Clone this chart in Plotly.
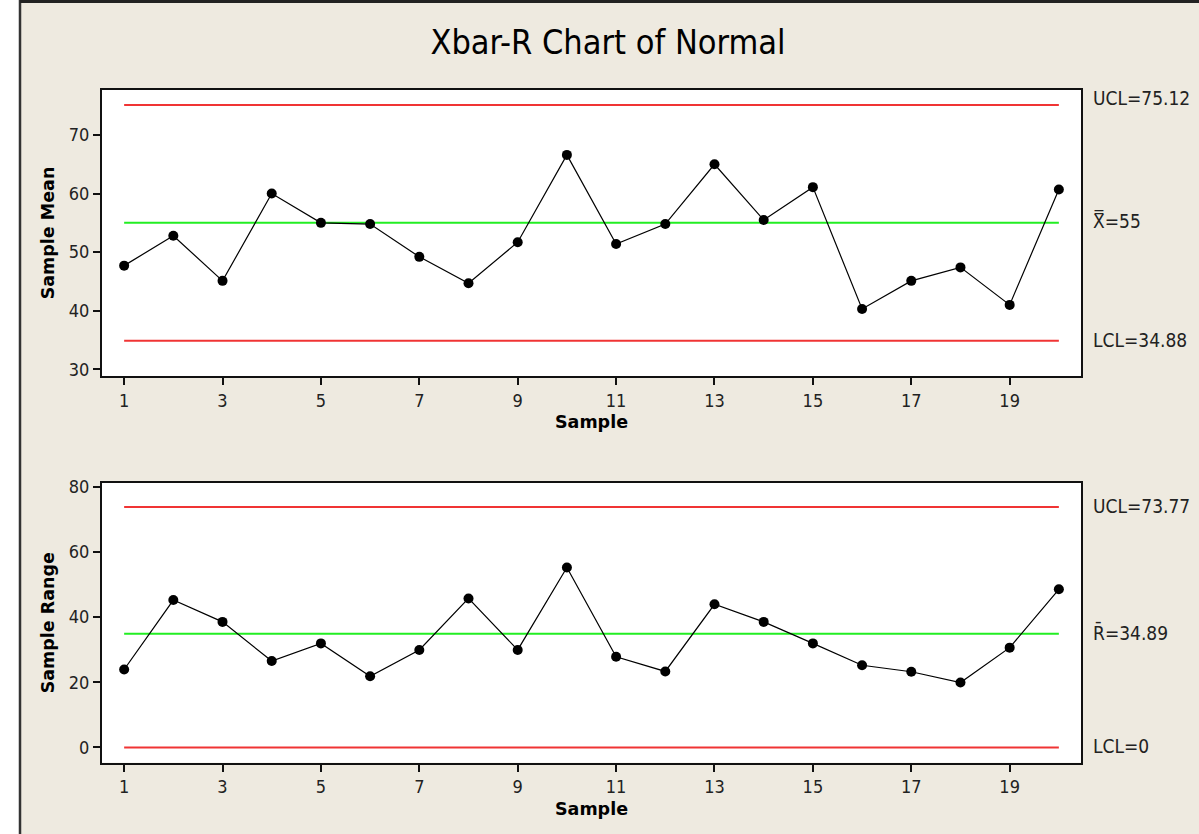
import plotly.graph_objects as go

W, H = 1199, 834

samples = list(range(1, 21))
sample_mean = [47.7, 52.8, 45.1, 60.0, 55.0, 54.8, 49.2, 44.7, 51.7, 66.6,
               51.4, 54.8, 65.0, 55.5, 61.1, 40.3, 45.1, 47.4, 41.0, 60.7]
sample_range = [23.9, 45.2, 38.5, 26.5, 31.9, 21.8, 29.9, 45.7, 29.9, 55.2,
                27.8, 23.3, 43.9, 38.5, 31.9, 25.2, 23.2, 19.9, 30.6, 48.5]

xbar_ucl, xbar_cl, xbar_lcl = 75.12, 55.0, 34.88
r_ucl, r_cl, r_lcl = 73.77, 34.89, 0.0

xbar_labels = ["UCL=75.12", "X\u033f=55", "LCL=34.88"]
r_labels = ["UCL=73.77", "R\u0304=34.89", "LCL=0"]

x_ticks = [1, 3, 5, 7, 9, 11, 13, 15, 17, 19]
y1_ticks = [30, 40, 50, 60, 70]
y2_ticks = [0, 20, 40, 60, 80]

BG = "#EEEAE0"
RED = "#F03434"
GREEN = "#22EE22"
TICK_FONT = dict(family="DejaVu Sans Condensed, DejaVu Sans, sans-serif", size=18, color="#222")
TITLE_FONT = dict(family="DejaVu Sans, Verdana, sans-serif", size=17.5, color="black", weight="bold")

fig = go.Figure()

def add_chart(xa, ya, values, ucl, cl, lcl):
    x_end = [samples[0], samples[-1]]
    for v, c in [(ucl, RED), (lcl, RED), (cl, GREEN)]:
        fig.add_trace(go.Scatter(x=x_end, y=[v, v], mode="lines",
                                 line=dict(color=c, width=2),
                                 xaxis=xa, yaxis=ya, showlegend=False,
                                 hoverinfo="skip"))
    fig.add_trace(go.Scatter(x=samples, y=values, mode="lines+markers",
                             line=dict(color="black", width=1.2),
                             marker=dict(color="black", size=10),
                             xaxis=xa, yaxis=ya, showlegend=False))

add_chart("x", "y", sample_mean, xbar_ucl, xbar_cl, xbar_lcl)
add_chart("x2", "y2", sample_range, r_ucl, r_cl, r_lcl)

xdom = [102 / W, 1081 / W]
axis_common = dict(showgrid=False, zeroline=False, showline=True, linecolor="#111",
                   linewidth=2, mirror=True, ticks="outside", ticklen=7,
                   tickwidth=1.5, tickcolor="#111", tickfont=TICK_FONT, automargin=False)

fig.update_layout(
    width=W, height=H,
    margin=dict(l=0, r=0, t=0, b=0, pad=0),
    paper_bgcolor=BG, plot_bgcolor="white",
    title=dict(text="Xbar-R Chart of Normal", x=608 / W, xanchor="center",
               y=1 - 42 / H, yanchor="middle", automargin=False,
               font=dict(family="DejaVu Sans Condensed, Liberation Sans Narrow, DejaVu Sans, sans-serif",
                         size=34, color="black")),
    xaxis=dict(domain=xdom, range=[0.55, 20.45], tickvals=x_ticks, anchor="y",
               title=dict(text="Sample", font=TITLE_FONT, standoff=6), **axis_common),
    yaxis=dict(domain=[1 - 376 / H, 1 - 90 / H], range=[28.86, 77.68], tickvals=y1_ticks,
               anchor="x", title=dict(text="Sample Mean", font=TITLE_FONT, standoff=10),
               **axis_common),
    xaxis2=dict(domain=xdom, range=[0.55, 20.45], tickvals=x_ticks, anchor="y2",
                title=dict(text="Sample", font=TITLE_FONT, standoff=6), **axis_common),
    yaxis2=dict(domain=[1 - 762.7 / H, 1 - 482.7 / H], range=[-4.7, 81.2], tickvals=y2_ticks,
                anchor="x2", title=dict(text="Sample Range", font=TITLE_FONT, standoff=10),
                **axis_common),
)

lab_font = dict(family="DejaVu Sans Condensed, DejaVu Sans, sans-serif", size=19, color="#222")
for txt, v, shift in zip(xbar_labels, [xbar_ucl, xbar_cl, xbar_lcl], [7, 2, 1]):
    fig.add_annotation(x=1091 / W, xref="paper", y=v, yref="y", text=txt, showarrow=False,
                       xanchor="left", yanchor="middle", yshift=shift, font=lab_font)
for txt, v, shift in zip(r_labels, [r_ucl, r_cl, r_lcl], [1, 1, 1]):
    fig.add_annotation(x=1091 / W, xref="paper", y=v, yref="y2", text=txt, showarrow=False,
                       xanchor="left", yanchor="middle", yshift=shift, font=lab_font)

# outer frame: white strip on the left, dark edge on left and top
fig.add_shape(type="rect", xref="paper", yref="paper", x0=0, x1=19 / W, y0=0, y1=1,
              fillcolor="white", line=dict(width=0), layer="above")
fig.add_shape(type="line", xref="paper", yref="paper", x0=20 / W, x1=20 / W, y0=0, y1=1,
              line=dict(color="#333", width=2.5), layer="above")
fig.add_shape(type="line", xref="paper", yref="paper", x0=20 / W, x1=1, y0=1 - 1.5 / H,
              y1=1 - 1.5 / H, line=dict(color="#222", width=3), layer="above")

fig.write_html("out.html", config={"displayModeBar": False},
               post_script="document.body.style.margin='0';document.body.style.overflow='hidden';")
